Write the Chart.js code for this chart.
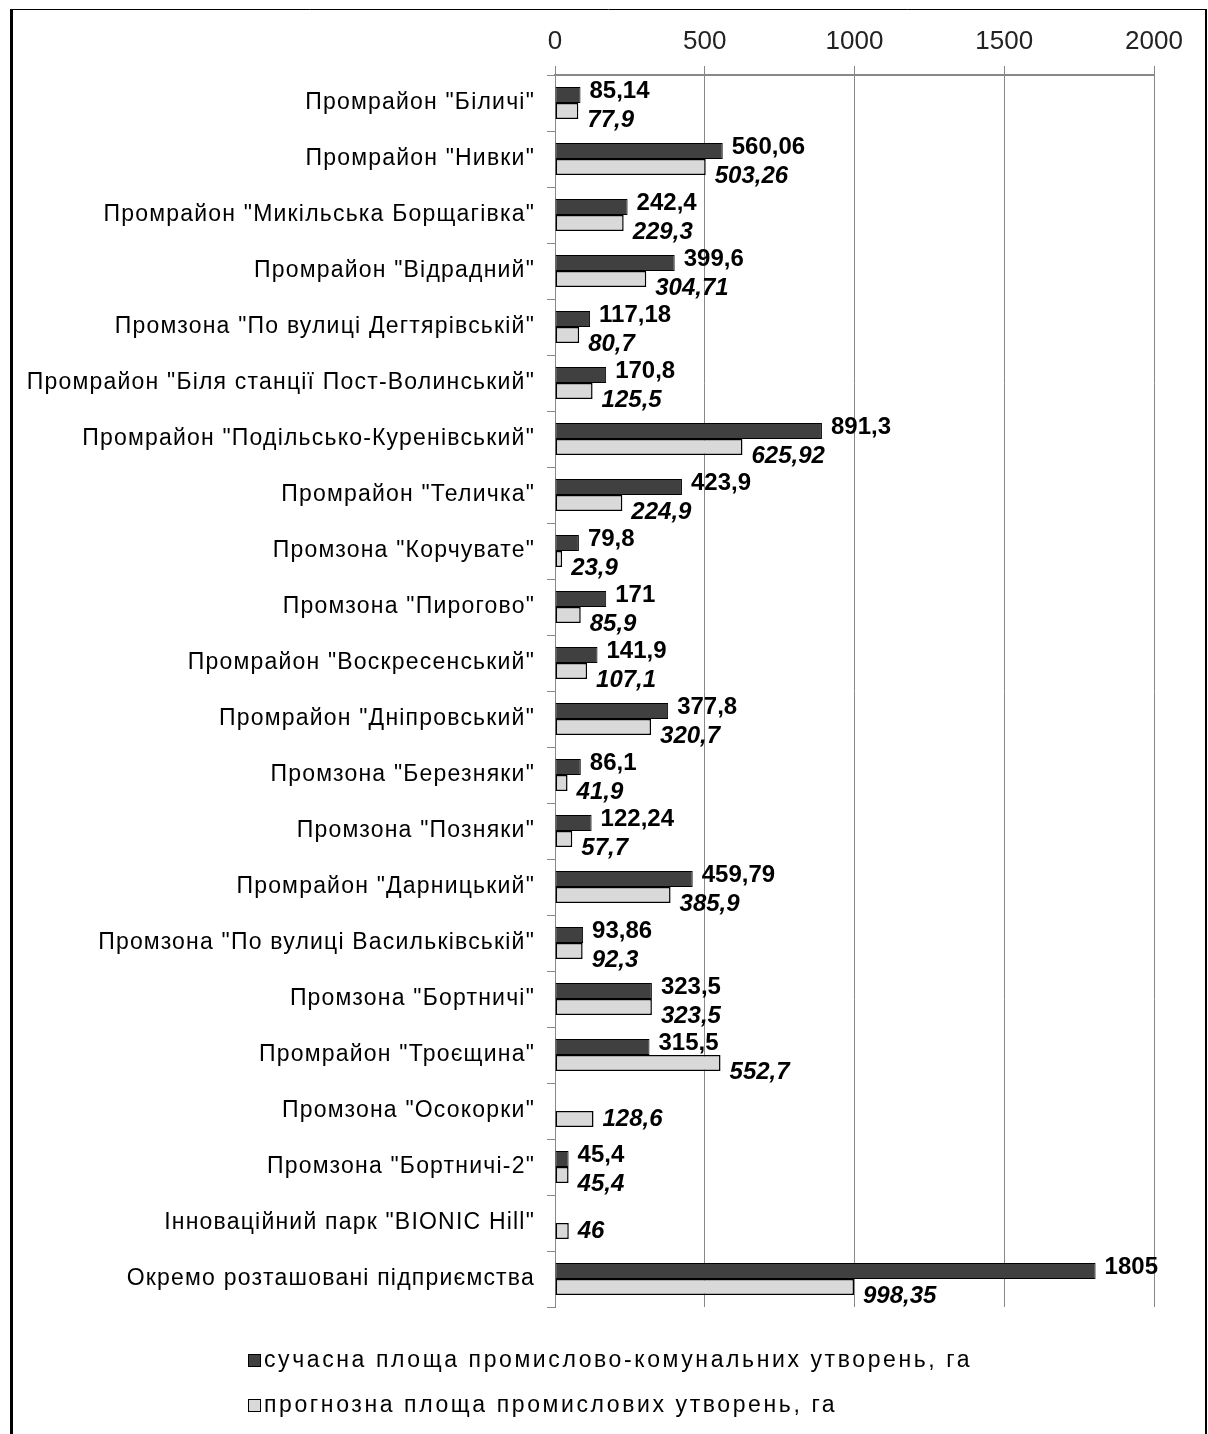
<!DOCTYPE html>
<html>
<head>
<meta charset="utf-8">
<script src="https://cdn.jsdelivr.net/npm/chart.js@4.4.0/dist/chart.umd.min.js"></script>
<style>
  html, body { margin: 0; padding: 0; background: #fff; }
  #wrap { width: 1208px; height: 1434px; }
</style>
</head>
<body>
<div id="wrap"><canvas id="chart" width="1208" height="1434"></canvas></div>
<script>
// Categories (industrial zones of Kyiv)
const categories = [
  'Промрайон "Біличі"',
  'Промрайон "Нивки"',
  'Промрайон "Микільська Борщагівка"',
  'Промрайон "Відрадний"',
  'Промзона "По вулиці Дегтярівській"',
  'Промрайон "Біля станції Пост-Волинський"',
  'Промрайон "Подільсько-Куренівський"',
  'Промрайон "Теличка"',
  'Промзона "Корчувате"',
  'Промзона "Пирогово"',
  'Промрайон "Воскресенський"',
  'Промрайон "Дніпровський"',
  'Промзона "Березняки"',
  'Промзона "Позняки"',
  'Промрайон "Дарницький"',
  'Промзона "По вулиці Васильківській"',
  'Промзона "Бортничі"',
  'Промрайон "Троєщина"',
  'Промзона "Осокорки"',
  'Промзона "Бортничі-2"',
  'Інноваційний парк "BIONIC Hill"',
  'Окремо розташовані підприємства'
];

// current area, ha
const currentArea = [85.14, 560.06, 242.4, 399.6, 117.18, 170.8, 891.3, 423.9, 79.8, 171,
  141.9, 377.8, 86.1, 122.24, 459.79, 93.86, 323.5, 315.5, null, 45.4, null, 1805];

// forecast area, ha
const forecastArea = [77.9, 503.26, 229.3, 304.71, 80.7, 125.5, 625.92, 224.9, 23.9, 85.9,
  107.1, 320.7, 41.9, 57.7, 385.9, 92.3, 323.5, 552.7, 128.6, 45.4, 46, 998.35];

const seriesNames = [
  'сучасна площа промислово-комунальних утворень, га',
  'прогнозна площа промислових утворень, га'
];

const xTicks = [0, 500, 1000, 1500, 2000];

const FONT = '"Liberation Sans", Arial, sans-serif';

// category scale whose labels are drawn with a bit of letter spacing
const CategoryScale = Chart.registry.getScale('category');
class SpacedCategoryScale extends CategoryScale {
  drawLabels(chartArea) {
    this.ctx.save();
    this.ctx.letterSpacing = '1.2px';
    super.drawLabels(chartArea);
    this.ctx.restore();
  }
}
SpacedCategoryScale.id = 'spacedCategory';
SpacedCategoryScale.defaults = CategoryScale.defaults;
Chart.register(SpacedCategoryScale);

const fmt = (v) => String(v).replace('.', ',');

// white background + frame
const framePlugin = {
  id: 'frame',
  beforeDraw(chart) {
    const ctx = chart.ctx;
    ctx.save();
    ctx.fillStyle = '#fff';
    ctx.fillRect(0, 0, chart.width, chart.height);
    ctx.strokeStyle = '#000';
    ctx.lineWidth = 1;
    ctx.beginPath();
    ctx.moveTo(10, 9.5);
    ctx.lineTo(1207, 9.5);
    ctx.stroke();
    ctx.lineWidth = 3;
    ctx.beginPath();
    ctx.moveTo(11.5, 9);
    ctx.lineTo(11.5, chart.height);
    ctx.stroke();
    ctx.lineWidth = 2;
    ctx.beginPath();
    ctx.moveTo(1206, 9);
    ctx.lineTo(1206, chart.height);
    ctx.stroke();
    ctx.restore();
  }
};

// value labels at the end of each bar
const valueLabels = {
  id: 'valueLabels',
  afterDatasetsDraw(chart) {
    const ctx = chart.ctx;
    ctx.save();
    ctx.fillStyle = '#000';
    ctx.textAlign = 'left';
    ctx.textBaseline = 'middle';
    chart.data.datasets.forEach((ds, di) => {
      const meta = chart.getDatasetMeta(di);
      meta.data.forEach((bar, i) => {
        const v = ds.data[i];
        if (v == null) return;
        let dy = di === 0 ? -4 : 9;
        if (di === 1 && chart.data.datasets[0].data[i] == null) dy = 0;
        ctx.font = (di === 0 ? 'bold ' : 'italic bold ') + '24px ' + FONT;
        ctx.fillText(fmt(v), bar.x + 9, bar.y + dy);
      });
    });
    ctx.restore();
  }
};

// legend stacked in two rows, left aligned
const stackedLegend = {
  id: 'stackedLegend',
  afterDraw(chart) {
    const ctx = chart.ctx;
    const area = chart.chartArea;
    ctx.save();
    ctx.font = '23px ' + FONT;
    ctx.letterSpacing = '2.6px';
    ctx.textAlign = 'left';
    ctx.textBaseline = 'middle';
    chart.data.datasets.forEach((ds, i) => {
      const y = area.bottom + 54 + i * 45;
      ctx.fillStyle = ds.backgroundColor;
      ctx.fillRect(248, y - 7, 13, 13);
      ctx.strokeStyle = '#000';
      ctx.lineWidth = 1;
      ctx.strokeRect(248.5, y - 6.5, 12, 12);
      ctx.fillStyle = '#000';
      ctx.fillText(ds.label, 264, y);
    });
    ctx.restore();
  }
};

new Chart(document.getElementById('chart'), {
  type: 'bar',
  data: {
    labels: categories,
    datasets: [
      {
        label: seriesNames[0],
        data: currentArea,
        backgroundColor: '#404040',
        borderColor: '#000',
        borderWidth: 1,
        borderSkipped: false,
        barPercentage: 1,
        categoryPercentage: 0.57
      },
      {
        label: seriesNames[1],
        data: forecastArea,
        backgroundColor: '#d9d9d9',
        borderColor: '#000',
        borderWidth: 1.5,
        borderSkipped: false,
        barPercentage: 1,
        categoryPercentage: 0.57
      }
    ]
  },
  options: {
    indexAxis: 'y',
    responsive: false,
    animation: false,
    devicePixelRatio: 1,
    layout: { padding: { left: 0, top: 0, right: 54, bottom: 127 } },
    plugins: {
      legend: { display: false },
      tooltip: { enabled: false }
    },
    scales: {
      x: {
        position: 'top',
        min: xTicks[0],
        max: xTicks[xTicks.length - 1],
        afterBuildTicks: (scale) => { scale.ticks = xTicks.map((v) => ({ value: v })); },
        afterFit: (scale) => { scale.height = 75; },
        ticks: {
          callback: (v) => String(v),
          color: '#222',
          font: { family: FONT, size: 26 },
          padding: 9
        },
        grid: { color: '#888', lineWidth: 1, tickLength: 9 },
        border: { color: '#888', width: 2 }
      },
      y: {
        type: 'spacedCategory',
        afterFit: (scale) => { scale.width = 555; },
        ticks: {
          color: '#000',
          font: { family: FONT, size: 23 },
          padding: 12,
          autoSkip: false
        },
        grid: { display: true, drawOnChartArea: false, color: '#888', tickLength: 8, offset: true },
        border: { color: '#888', width: 1 }
      }
    }
  },
  plugins: [framePlugin, valueLabels, stackedLegend]
});
</script>
</body>
</html>
